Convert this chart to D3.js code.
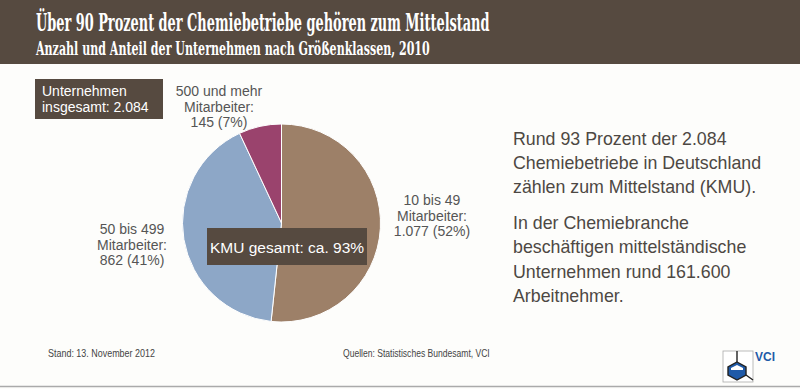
<!DOCTYPE html>
<html lang="de">
<head>
<meta charset="UTF-8">
<title>Chemiebetriebe nach Größenklassen</title>
<style>
  body { margin: 0; background: #fdfdfb; }
  svg { display: block; }
  .sans { font-family: "Liberation Sans", Arial, sans-serif; }
  .narrow { font-family: "Liberation Sans Narrow", "Arial Narrow", "Liberation Sans", sans-serif; }
  .title { font-family: "DejaVu Serif", serif; font-weight: bold; fill: #fff; }
</style>
</head>
<body>
<svg id="chart" width="800" height="389"></svg>
<script src="https://d3js.org/d3.v7.min.js"></script>
<script>
// Daten
const categories = ["10 bis 49", "50 bis 499", "500 und mehr"];
const values = [1077, 862, 145];
const shares = ["52%", "41%", "7%"];
const colors = ["#9d8068", "#8da7c7", "#9a436d"];
const valueLabels = ["1.077", "862", "145"];
const total = "2.084";

const svg = d3.select("#chart");

// Text horizontal auf eine Zielbreite stauchen
function fitWidth(sel, x, y, w) {
  const len = sel.node().getComputedTextLength();
  sel.attr("x", 0).attr("y", 0)
    .attr("transform", `translate(${x},${y}) scale(${w / len},1)`);
}

// Kopfzeile
svg.append("rect").attr("x", 0).attr("y", 0).attr("width", 800).attr("height", 64).attr("fill", "#564a40");
const t1 = svg.append("text").attr("class", "title").attr("font-size", 23.5)
  .text("Über 90 Prozent der Chemiebetriebe gehören zum Mittelstand");
fitWidth(t1, 36, 31, 454);
const t2 = svg.append("text").attr("class", "title").attr("font-size", 18.5)
  .text("Anzahl und Anteil der Unternehmen nach Größenklassen, 2010");
fitWidth(t2, 36, 55, 394);

// Kreisdiagramm
const cx = 281.5, cy = 223, r = 99;
const pie = d3.pie().sort(null).value(d => d)(values);
const arc = d3.arc().innerRadius(0).outerRadius(r);
const g = svg.append("g").attr("transform", `translate(${cx},${cy})`);
g.selectAll("path").data(pie).enter().append("path")
  .attr("d", arc)
  .attr("fill", (d, i) => colors[i])
  .attr("stroke", "#fff").attr("stroke-width", 1);

// Beschriftungen der Segmente
const labelPos = [[432, 205], [132, 234], [219, 96]];
categories.forEach((c, i) => {
  const t = svg.append("text").attr("class", "sans").attr("text-anchor", "middle")
    .attr("font-size", 14).attr("fill", "#555");
  const lines = [c, "Mitarbeiter:", `${valueLabels[i]} (${shares[i]})`];
  lines.forEach((l, j) => {
    t.append("tspan").attr("x", labelPos[i][0]).attr("y", labelPos[i][1] + j * 15.5).text(l);
  });
});

// Kasten: Unternehmen insgesamt
svg.append("rect").attr("x", 35).attr("y", 79).attr("width", 128).attr("height", 40).attr("fill", "#564a40");
const bt = svg.append("text").attr("class", "sans").attr("font-size", 14).attr("fill", "#fff");
bt.append("tspan").attr("x", 42).attr("y", 96).text("Unternehmen");
bt.append("tspan").attr("x", 42).attr("y", 112).text(`insgesamt: ${total}`);

// Kasten: KMU
svg.append("rect").attr("x", 207).attr("y", 228).attr("width", 160).attr("height", 37).attr("fill", "#564a40");
svg.append("text").attr("class", "sans").attr("x", 287).attr("y", 253).attr("text-anchor", "middle")
  .attr("font-size", 15.5).attr("fill", "#fff").text("KMU gesamt: ca. 93%");

// Erläuterung rechts
const note = [
  ["Rund 93 Prozent der 2.084", 145],
  ["Chemiebetriebe in Deutschland", 169],
  ["zählen zum Mittelstand (KMU).", 193],
  ["In der Chemiebranche", 229],
  ["beschäftigen mittelständische", 253],
  ["Unternehmen rund 161.600", 278],
  ["Arbeitnehmer.", 302]
];
svg.selectAll("text.note").data(note).enter().append("text")
  .attr("class", "note sans").attr("x", 513).attr("y", d => d[1])
  .attr("font-size", 17.8).attr("fill", "#4d4843").text(d => d[0]);

// Fußzeile
const f1 = svg.append("text").attr("class", "narrow").attr("font-size", 10.5).attr("fill", "#444")
  .text("Stand: 13. November 2012");
fitWidth(f1, 48, 357, 107);
const f2 = svg.append("text").attr("class", "narrow").attr("font-size", 10.5).attr("fill", "#444")
  .text("Quellen: Statistisches Bundesamt, VCI");
fitWidth(f2, 343, 357, 147);
svg.append("line").attr("x1", 0).attr("x2", 800).attr("y1", 386.5).attr("y2", 386.5)
  .attr("stroke", "#aaa").attr("stroke-width", 1.5);

// VCI-Logo
const logo = svg.append("g").attr("transform", "translate(723,351)");
logo.append("rect").attr("x", 0).attr("y", 0).attr("width", 30).attr("height", 31)
  .attr("fill", "#fff").attr("stroke", "#aaa").attr("stroke-width", 0.8);
logo.append("line").attr("x1", 14).attr("y1", 0).attr("x2", 14).attr("y2", 11).attr("stroke", "#222").attr("stroke-width", 1.4);
logo.append("line").attr("x1", 23).attr("y1", 24).attr("x2", 30).attr("y2", 29).attr("stroke", "#222").attr("stroke-width", 1.4);
logo.append("path").attr("d", "M14,11 L23,16 L23,24 L14,29 L5,24 L5,16 Z")
  .attr("fill", "#1f5aa8").attr("stroke", "#222").attr("stroke-width", 1.4);
logo.append("path").attr("d", "M8,17 L14,14 L20,17 L20,19 L8,19 Z").attr("fill", "#fff");
svg.append("text").attr("x", 755).attr("y", 361).attr("font-family", "Liberation Sans Narrow, Liberation Sans, sans-serif")
  .attr("font-weight", "bold").attr("font-size", 12).attr("fill", "#1f5aa8").text("VCI");
</script>
</body>
</html>
